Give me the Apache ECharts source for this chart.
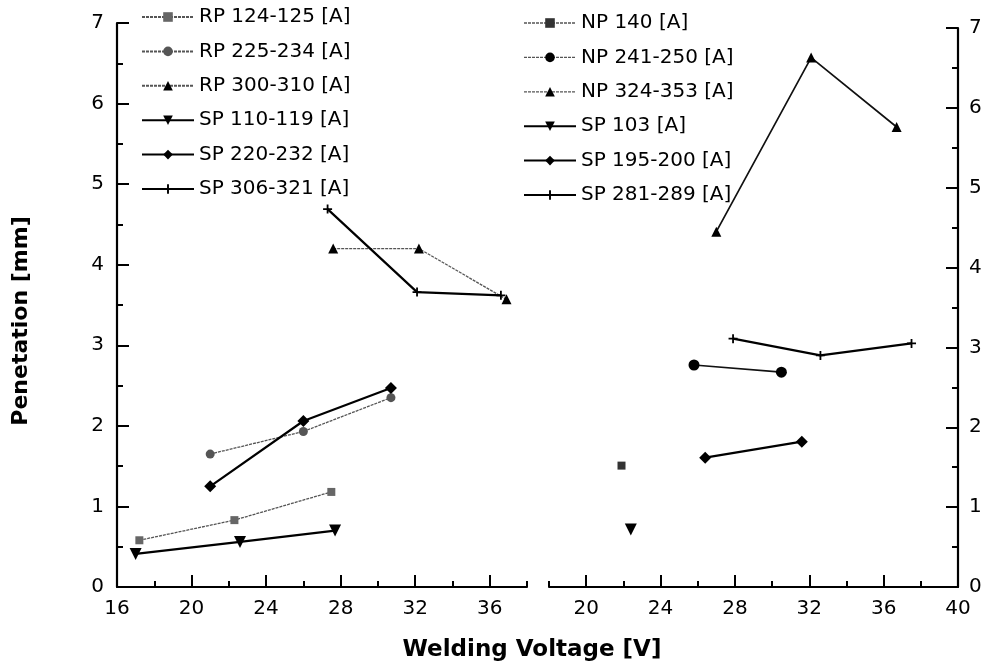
<!DOCTYPE html>
<html>
<head>
<meta charset="utf-8">
<script src="https://cdn.jsdelivr.net/npm/echarts@6/dist/echarts.min.js"></script>
<style>
  html, body { margin: 0; padding: 0; background: #fff; }
  #chart { width: 986px; height: 667px; }
</style>
</head>
<body>
<div id="chart"></div>
<script>
// left panel (RP / SP)
var rp124V = [17.2, 22.3, 27.5];
var rp124P = [0.58, 0.83, 1.18];
var rp225V = [21.0, 26.0, 30.7];
var rp225P = [1.65, 1.93, 2.35];
var rp300V = [27.6, 32.2, 36.9];
var rp300P = [4.2, 4.2, 3.57];
var sp110V = [17.0, 22.6, 27.7];
var sp110P = [0.41, 0.56, 0.70];
var sp220V = [21.0, 26.0, 30.7];
var sp220P = [1.25, 2.06, 2.47];
var sp306V = [27.3, 32.1, 36.6];
var sp306P = [4.69, 3.66, 3.62];

// right panel (NP / SP)
var np140V = [21.9];
var np140P = [1.52];
var np241V = [25.8, 30.5];
var np241P = [2.78, 2.69];
var np324V = [27.0, 32.1, 36.7];
var np324P = [4.45, 6.63, 5.76];
var sp103V = [22.4];
var sp103P = [0.72];
var sp195V = [26.4, 31.6];
var sp195P = [1.62, 1.82];
var sp281V = [27.9, 32.6, 37.5];
var sp281P = [3.11, 2.90, 3.05];

var leftNames = ['RP 124-125 [A]', 'RP 225-234 [A]', 'RP 300-310 [A]', 'SP 110-119 [A]', 'SP 220-232 [A]', 'SP 306-321 [A]'];
var rightNames = ['NP 140 [A]', 'NP 241-250 [A]', 'NP 324-353 [A]', 'SP 103 [A]', 'SP 195-200 [A]', 'SP 281-289 [A]'];

var leftTicks = [16, 20, 24, 28, 32, 36];
var leftMinor = [18, 22, 26, 30, 34, 38];
var rightTicks = [20, 24, 28, 32, 36, 40];
var rightMinor = [18, 22, 26, 30, 34, 38];

var FONT = 'DejaVu Sans';
var plus = 'path://M4,0H6V4H10V6H6V10H4V6H0V4H4Z';

function pts(xs, ys) {
    return xs.map(function (x, i) { return [x, ys[i]]; });
}

var thin = { color: '#555', width: 1.3, type: [3, 1] };
var mid = { color: '#111', width: 1.7 };
var thick = { color: '#000', width: 2.2 };

function mk(name, xs, ys, side, symbol, size, line, color, rot) {
    return {
        name: name,
        type: 'line',
        xAxisIndex: side === 'L' ? 0 : 2,
        yAxisIndex: side === 'L' ? 0 : 1,
        data: pts(xs, ys),
        symbol: symbol,
        symbolSize: size,
        symbolRotate: rot || 0,
        showAllSymbol: true,
        lineStyle: line,
        itemStyle: { color: color },
        emphasis: { disabled: true },
        z: 3
    };
}

function xMajor(grid, min, max, ticks) {
    return {
        type: 'value', gridIndex: grid, position: 'bottom', min: min, max: max,
        axisLine: { show: true, lineStyle: { color: '#000', width: 2 } },
        axisTick: { show: true, inside: true, length: 12, customValues: ticks, lineStyle: { color: '#000', width: 2 } },
        axisLabel: { show: true, customValues: ticks, margin: 12, color: '#000', fontSize: 20, fontFamily: FONT },
        splitLine: { show: false }
    };
}
function xMinor(grid, min, max, ticks) {
    return {
        type: 'value', gridIndex: grid, position: 'bottom', min: min, max: max,
        axisLine: { show: false },
        axisTick: { show: true, inside: true, length: 6, customValues: ticks, lineStyle: { color: '#000', width: 2 } },
        axisLabel: { show: false },
        splitLine: { show: false }
    };
}
function yAxis(grid, pos, margin) {
    return {
        type: 'value', gridIndex: grid, position: pos, min: 0, max: 7, interval: 1,
        axisLine: { show: true, lineStyle: { color: '#000', width: 2.2 } },
        axisTick: { show: true, inside: true, length: 12, lineStyle: { color: '#000', width: 2 } },
        minorTick: { show: true, splitNumber: 2, length: 6, lineStyle: { color: '#000', width: 2 } },
        axisLabel: { margin: margin, color: '#000', fontSize: 20, fontFamily: FONT },
        splitLine: { show: false }
    };
}

var legendBase = {
    orient: 'vertical', itemWidth: 52, itemHeight: 12, itemGap: 14.4, padding: 0,
    textStyle: { fontSize: 20, fontFamily: FONT, color: '#000' },
    selectedMode: false
};

// NP lines are solid in the plot, thin dotted in the key
var rightLegendData = rightNames.map(function (n, i) {
    return i < 3 ? { name: n, lineStyle: thin } : { name: n };
});

var chart = echarts.init(document.getElementById('chart'));
chart.setOption({
    animation: false,
    backgroundColor: '#fff',
    grid: [
        { left: 117, right: 459, top: 23, bottom: 80 },
        { left: 549, right: 28, top: 28, bottom: 80 }
    ],
    xAxis: [
        xMajor(0, 16, 38, leftTicks),
        xMinor(0, 16, 38, leftMinor),
        xMajor(1, 18, 40, rightTicks),
        xMinor(1, 18, 40, rightMinor)
    ],
    yAxis: [
        yAxis(0, 'left', 13),
        yAxis(1, 'right', 11)
    ],
    legend: [
        Object.assign({ left: 141, top: 7, data: leftNames }, legendBase),
        Object.assign({ left: 523, top: 13, data: rightLegendData }, legendBase)
    ],
    graphic: [
        {
            type: 'text', x: 532, y: 650,
            style: { text: 'Welding Voltage [V]', font: 'bold 23px "DejaVu Sans"', fill: '#000', align: 'center', verticalAlign: 'middle' }
        },
        {
            type: 'text', x: 21, y: 321, rotation: Math.PI / 2,
            style: { text: 'Penetation [mm]', font: 'bold 22px "DejaVu Sans"', fill: '#000', align: 'center', verticalAlign: 'middle' }
        }
    ],
    series: [
        mk(leftNames[0], rp124V, rp124P, 'L', 'rect', 8, thin, '#666'),
        mk(leftNames[1], rp225V, rp225P, 'L', 'circle', 9, thin, '#555'),
        mk(leftNames[2], rp300V, rp300P, 'L', 'triangle', 10, thin, '#000'),
        mk(leftNames[3], sp110V, sp110P, 'L', 'triangle', 12, thick, '#000', 180),
        mk(leftNames[4], sp220V, sp220P, 'L', 'diamond', 12, thick, '#000'),
        mk(leftNames[5], sp306V, sp306P, 'L', plus, 9, thick, '#000'),
        mk(rightNames[0], np140V, np140P, 'R', 'rect', 8, mid, '#333'),
        mk(rightNames[1], np241V, np241P, 'R', 'circle', 11, mid, '#000'),
        mk(rightNames[2], np324V, np324P, 'R', 'triangle', 10, mid, '#000'),
        mk(rightNames[3], sp103V, sp103P, 'R', 'triangle', 12, thick, '#000', 180),
        mk(rightNames[4], sp195V, sp195P, 'R', 'diamond', 12, thick, '#000'),
        mk(rightNames[5], sp281V, sp281P, 'R', plus, 9, thick, '#000')
    ]
});
</script>
</body>
</html>
